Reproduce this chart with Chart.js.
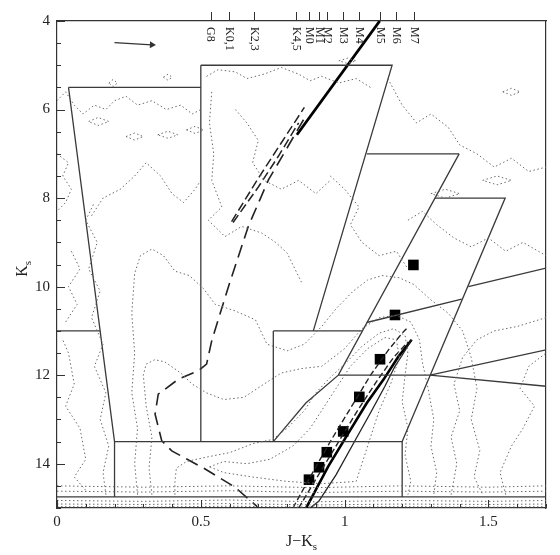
<!DOCTYPE html>
<html><head><meta charset="utf-8">
<script src="https://cdn.jsdelivr.net/npm/chart.js@4.4.1/dist/chart.umd.min.js"></script>
<style>html,body{margin:0;padding:0;background:#fff}canvas{display:block}</style>
</head><body>
<canvas id="c" width="560" height="555"></canvas>
<script>
// ---------- axis ranges / tick labels ----------
const xRange = [0, 1.7];
const yRange = [4, 15];
const xTickLabels = ['0', '0.5', '1', '1.5'];
const yTickLabels = ['4', '6', '8', '10', '12', '14'];
const spectralLabels = ['G8', 'K0,1', 'K2,3', 'K4,5', 'M0', 'M1', 'M2', 'M3', 'M4', 'M5', 'M6', 'M7'];
const spectralJK = [0.534, 0.598, 0.685, 0.830, 0.876, 0.911, 0.938, 0.995, 1.051, 1.123, 1.179, 1.242];

// ---------- filled squares ----------
const squareJK = [0.876, 0.911, 0.938, 0.995, 1.051, 1.123, 1.175, 1.239];
const squareKs = [14.36, 14.08, 13.74, 13.27, 12.49, 11.64, 10.64, 9.51];

// ---------- reddening arrow ----------
const arrowJK = [0.20, 0.33];
const arrowKs = [4.49, 4.54];

// ---------- region boundaries (solid) ----------
const boundaries = [
  [[0.04,5.5],[0.5,5.5]],
  [[0.04,5.5],[0.2,13.5],[0.2,14.75]],
  [[0,11],[0.15,11]],
  [[0.5,5],[0.5,13.5]],
  [[0.5,5],[1.165,5],[0.891,11]],
  [[0.752,11],[1.061,11]],
  [[0.752,11],[0.752,13.5]],
  [[0.2,13.5],[1.2,13.5],[1.2,14.75]],
  [[0.752,13.5],[0.865,12.63],[0.978,12],[1.398,7]],
  [[1.077,7],[1.398,7]],
  [[1.314,8],[1.558,8],[1.2,13.5]],
  [[0.978,12],[1.297,12]],
  [[1.297,12],[1.7,11.43]],
  [[1.297,12],[1.7,12.25]],
  [[1.077,10.81],[1.407,10.28]],
  [[1.43,10.0],[1.7,9.58]],
  [[0,14.75],[1.7,14.75]]
];

// ---------- thick solid tracks ----------
const thickJK = [1.122, 0.834];
const thickKs = [4.0, 6.57];
const msThickJK = [0.862, 0.943, 1.013, 1.077, 1.135, 1.187, 1.233];
const msThickKs = [15.05, 14.06, 13.31, 12.63, 12.10, 11.58, 11.20];
const msThinJK = [1.233, 1.20, 1.175, 1.14, 1.09, 1.03, 0.97, 0.91, 0.87];
const msThinKs = [11.20, 11.55, 11.80, 12.25, 12.85, 13.55, 14.25, 14.85, 15.05];

// ---------- dashed tracks ----------
const isoJK = [0.857, 0.735, 0.665, 0.596, 0.538, 0.520, 0.491, 0.422, 0.352, 0.341, 0.364, 0.399, 0.515, 0.619, 0.712];
const isoKs = [6.23, 7.59, 8.64, 10.0, 11.22, 11.75, 11.90, 12.09, 12.43, 12.88, 13.48, 13.71, 14.12, 14.53, 15.06];
const giantAJK = [0.607, 0.70, 0.78, 0.86];
const giantAKs = [8.53, 7.55, 6.75, 5.95];
const giantBJK = [0.612, 0.70, 0.77, 0.84];
const giantBKs = [8.55, 7.75, 7.05, 6.30];
const msDashAJK = [0.82, 0.88, 0.95, 1.02, 1.09, 1.15, 1.20, 1.215];
const msDashAKs = [15.0, 14.3, 13.5, 12.75, 12.0, 11.45, 11.05, 10.95];
const msDashBJK = [0.84, 0.90, 0.97, 1.04, 1.11, 1.17, 1.22];
const msDashBKs = [15.0, 14.35, 13.6, 12.85, 12.15, 11.6, 11.25];

// ---------- density contours (dotted) ----------
const contours = [
  // lower nested contours
  [[0.17,14.7],[0.16,14.2],[0.18,13.6],[0.15,13.0],[0.17,12.4],[0.13,11.8],[0.16,11.3],[0.12,10.7],[0.15,10.1],[0.11,9.6],[0.14,9.0],[0.10,8.5],[0.13,8.1]],
  [[0.28,14.7],[0.27,14.0],[0.28,13.2],[0.26,12.4],[0.27,11.5],[0.26,10.6],[0.27,9.7],[0.29,9.3],[0.33,9.15],[0.37,9.3],[0.41,9.65],[0.46,9.75],[0.51,10.05],[0.55,10.4],[0.62,10.55],[0.69,10.75],[0.73,11.3],[0.80,11.45],[0.86,11.3],[0.92,10.9],[0.97,10.5],[1.03,10.1],[1.08,9.85],[1.13,9.75],[1.19,9.8],[1.24,9.95],[1.30,10.3],[1.36,10.6],[1.41,11.0],[1.44,11.6],[1.46,12.3],[1.44,13.0],[1.47,13.7],[1.45,14.3],[1.48,14.7]],
  [[0.33,14.7],[0.32,14.1],[0.33,13.4],[0.31,12.7],[0.30,12.0],[0.31,11.75],[0.34,11.65],[0.375,11.7],[0.43,11.95],[0.47,12.2],[0.52,12.4],[0.58,12.55],[0.65,12.5],[0.72,12.2],[0.78,11.95],[0.85,11.85],[0.92,11.8],[1.00,11.4],[1.06,10.95],[1.12,10.7],[1.18,10.65],[1.23,10.8],[1.26,11.2],[1.27,11.7],[1.29,12.3],[1.31,13.0],[1.30,13.6],[1.32,14.2],[1.31,14.7]],
  [[0.41,14.7],[0.41,14.4],[0.415,14.1],[0.45,13.95],[0.52,13.85],[0.60,13.75],[0.68,13.55],[0.75,13.45],[0.80,13.2],[0.86,12.8],[0.90,12.4],[0.95,12.05],[1.00,11.75],[1.06,11.35],[1.12,11.05],[1.17,10.95],[1.21,11.1],[1.22,11.5],[1.21,12.0],[1.20,12.6],[1.22,13.2],[1.21,13.8],[1.23,14.4],[1.22,14.7]],
  [[0.53,14.07],[0.58,13.95],[0.66,14.0],[0.74,13.9],[0.82,13.6],[0.88,13.2],[0.92,12.8],[0.97,12.3],[1.02,11.8],[1.08,11.4],[1.14,11.15],[1.18,11.2],[1.19,11.6],[1.16,12.2],[1.12,12.8],[1.09,13.4],[1.06,14.0],[1.04,14.4],[0.92,14.45],[0.80,14.4],[0.68,14.3],[0.58,14.2],[0.53,14.07]],
  [[0.10,14.6],[0.06,14.3],[0.10,13.9],[0.08,13.2],[0.03,12.7],[0.06,12.2],[0.04,11.5],[0.02,11.2]],
  [[1.56,14.7],[1.54,14.2],[1.58,13.6],[1.62,13.2],[1.66,12.7],[1.61,12.3],[1.64,11.8],[1.70,11.5]],
  [[1.37,14.7],[1.39,14.0],[1.37,13.4],[1.40,12.8],[1.38,12.2],[1.41,11.6],[1.46,11.2],[1.52,11.0],[1.60,10.9],[1.70,10.7]],
  // bottom packed contours
  [[0.0,14.5],[0.3,14.53],[0.6,14.5],[0.9,14.54],[1.2,14.5],[1.5,14.53],[1.7,14.5]],
  [[0.0,14.62],[0.3,14.64],[0.6,14.61],[0.9,14.65],[1.2,14.62],[1.5,14.64],[1.7,14.62]],
  [[0.0,14.83],[0.3,14.85],[0.6,14.82],[0.9,14.86],[1.2,14.83],[1.5,14.85],[1.7,14.83]],
  [[0.0,14.91],[0.3,14.92],[0.6,14.9],[0.9,14.93],[1.2,14.91],[1.5,14.92],[1.7,14.91]],
  [[0.0,14.97],[0.3,14.98],[0.6,14.96],[0.9,14.98],[1.2,14.97],[1.5,14.98],[1.7,14.97]],
  // upper noisy contours
  [[0.52,5.25],[0.56,5.1],[0.62,5.15],[0.66,5.3],[0.72,5.2],[0.78,5.05],[0.84,5.2],[0.88,5.35],[0.92,5.25],[0.98,5.4],[1.04,5.3],[1.09,5.5]],
  [[0.0,5.8],[0.03,5.6],[0.06,5.9],[0.09,6.1],[0.13,5.9],[0.17,6.0],[0.20,5.8],[0.24,5.7],[0.28,5.9],[0.33,5.8],[0.38,6.0],[0.43,5.9],[0.47,6.1],[0.50,6.0]],
  [[0.0,7.0],[0.04,7.2],[0.02,7.5],[0.05,7.8],[0.03,8.1],[0.0,8.3]],
  [[0.12,8.4],[0.16,8.0],[0.22,7.8],[0.27,7.5],[0.31,7.2],[0.36,7.5],[0.40,7.9],[0.44,8.1],[0.48,7.8],[0.50,7.6]],
  [[0.538,5.6],[0.53,6.3],[0.545,7.0],[0.538,7.6],[0.573,8.2],[0.526,8.5],[0.584,8.87],[0.642,8.64],[0.712,8.79],[0.76,9.0],[0.80,9.24],[0.827,9.6],[0.85,9.9]],
  [[0.62,6.0],[0.66,6.3],[0.70,6.7],[0.68,7.2],[0.72,7.6],[0.78,7.8],[0.84,7.6],[0.90,7.9],[0.95,7.6]],
  [[0.95,7.5],[1.00,7.8],[1.05,8.2],[1.02,8.6],[1.06,9.0],[1.12,9.3],[1.18,9.2],[1.22,9.6]],
  [[1.15,5.3],[1.20,5.9],[1.25,6.3],[1.30,6.1],[1.36,6.4],[1.40,6.8],[1.46,7.0],[1.52,7.3],[1.58,7.1],[1.64,7.4],[1.70,7.3]],
  [[1.22,8.5],[1.27,8.3],[1.32,8.6],[1.38,8.9],[1.44,9.1],[1.50,8.9],[1.56,9.2],[1.62,9.0],[1.70,9.3]],
  [[0.05,9.2],[0.08,9.6],[0.04,10.0],[0.07,10.4],[0.03,10.8]],
  // small closed loops
  [[0.18,5.4],[0.195,5.32],[0.21,5.4],[0.195,5.48],[0.18,5.4]],
  [[0.37,5.27],[0.386,5.2],[0.40,5.27],[0.386,5.34],[0.37,5.27]],
  [[0.11,6.27],[0.143,6.18],[0.18,6.27],[0.143,6.36],[0.11,6.27]],
  [[0.24,6.61],[0.27,6.53],[0.30,6.61],[0.27,6.69],[0.24,6.61]],
  [[0.35,6.57],[0.386,6.49],[0.42,6.57],[0.386,6.65],[0.35,6.57]],
  [[0.45,6.46],[0.48,6.38],[0.51,6.46],[0.48,6.54],[0.45,6.46]],
  [[1.30,7.9],[1.35,7.8],[1.40,7.9],[1.35,8.0],[1.30,7.9]],
  [[1.48,7.6],[1.53,7.5],[1.58,7.6],[1.53,7.7],[1.48,7.6]],
  [[1.55,5.6],[1.58,5.52],[1.61,5.6],[1.58,5.68],[1.55,5.6]],
  [[0.98,4.9],[1.01,4.84],[1.04,4.9],[1.01,4.96],[0.98,4.9]]
];

// ---------- build datasets ----------
const pts = (xs, ys) => xs.map((v, i) => ({x: v, y: ys[i]}));
const pairPts = arr => arr.map(p => ({x: p[0], y: p[1]}));
const lineDS = (data, color, width, dash) => ({
  data, showLine: true, borderColor: color, borderWidth: width, borderDash: dash || [],
  pointRadius: 0, fill: false, tension: 0, clip: 0
});

const datasets = [];
contours.forEach(c => datasets.push(lineDS(pairPts(c), '#6a6a6a', 1, [1.5, 2.5])));
boundaries.forEach(b => datasets.push(lineDS(pairPts(b), '#3a3a3a', 1.3)));
datasets.push(lineDS(pts(isoJK, isoKs), '#222', 1.6, [13, 7]));
datasets.push(lineDS(pts(giantAJK, giantAKs), '#222', 1.5, [9, 4]));
datasets.push(lineDS(pts(giantBJK, giantBKs), '#222', 1.5, [9, 4]));
datasets.push(lineDS(pts(msDashAJK, msDashAKs), '#222', 1.4, [6, 3]));
datasets.push(lineDS(pts(msDashBJK, msDashBKs), '#222', 1.4, [6, 3]));
datasets.push(lineDS(pts(msThinJK, msThinKs), '#222', 1.3));
datasets.push(lineDS(pts(msThickJK, msThickKs), '#000', 2.6));
datasets.push(lineDS(pts(thickJK, thickKs), '#000', 2.8));
datasets.push({
  data: pts(squareJK, squareKs), showLine: false, pointStyle: 'rect',
  pointRadius: 7.5, backgroundColor: '#000', borderColor: '#000', borderWidth: 0
});
datasets.push({
  data: pts(arrowJK, arrowKs), showLine: true, borderColor: '#333', borderWidth: 1.2,
  pointStyle: 'triangle', pointRadius: [0, 4], pointRotation: 93,
  backgroundColor: '#333', pointBorderWidth: 0, fill: false
});

const serif = '"Liberation Serif", "DejaVu Serif", serif';

const decor = {
  id: 'decor',
  afterDraw(chart) {
    const {ctx, chartArea: a, scales: {x, y}} = chart;
    ctx.save();
    ctx.strokeStyle = '#333';
    ctx.lineWidth = 1;
    ctx.beginPath();
    for (let i = 0; i <= 170; i += 10) {
      const px = Math.round(x.getPixelForValue(i / 100)) + 0.5;
      const len = (i % 50 === 0) ? 8 : 4;
      ctx.moveTo(px, a.bottom); ctx.lineTo(px, a.bottom - len);
    }
    for (let i = 8; i <= 30; i++) {
      const v = i / 2;
      const py = Math.round(y.getPixelForValue(v)) + 0.5;
      const len = (v % 2 === 0) ? 8 : 4;
      ctx.moveTo(a.left, py); ctx.lineTo(a.left + len, py);
    }
    spectralJK.forEach(v => {
      const px = Math.round(x.getPixelForValue(v)) + 0.5;
      ctx.moveTo(px, a.top); ctx.lineTo(px, a.top - 9);
    });
    ctx.stroke();
    // spectral labels (rotated)
    ctx.fillStyle = '#222';
    ctx.font = '12px ' + serif;
    spectralJK.forEach((v, i) => {
      const px = x.getPixelForValue(v);
      ctx.save();
      ctx.translate(px, a.top + 6);
      ctx.rotate(Math.PI / 2);
      ctx.textAlign = 'left';
      ctx.textBaseline = 'middle';
      ctx.fillText(spectralLabels[i], 0, 0);
      ctx.restore();
    });
    // x title  J-Ks
    ctx.font = '16px ' + serif;
    ctx.textBaseline = 'alphabetic';
    ctx.textAlign = 'left';
    const main = 'J\u2212K';
    const w = ctx.measureText(main).width;
    ctx.font = '11px ' + serif;
    const ws = ctx.measureText('s').width;
    const cx = (a.left + a.right) / 2;
    const x0 = cx - (w + ws) / 2;
    ctx.font = '16px ' + serif;
    ctx.fillText(main, x0, 546);
    ctx.font = '11px ' + serif;
    ctx.fillText('s', x0 + w, 550);
    // y title Ks
    ctx.save();
    ctx.translate(27, 268);
    ctx.rotate(-Math.PI / 2);
    ctx.font = '16px ' + serif;
    const wk = ctx.measureText('K').width;
    ctx.fillText('K', -(wk + 6) / 2, 0);
    ctx.font = '11px ' + serif;
    ctx.fillText('s', -(wk + 6) / 2 + wk, 4);
    ctx.restore();
    ctx.restore();
  }
};

new Chart(document.getElementById('c'), {
  type: 'scatter',
  data: {datasets},
  plugins: [decor],
  options: {
    responsive: false,
    animation: false,
    events: [],
    layout: {padding: 0},
    plugins: {legend: {display: false}, tooltip: {enabled: false}},
    scales: {
      x: {
        type: 'linear', position: 'bottom', min: xRange[0], max: xRange[1],
        grid: {display: false, drawTicks: false},
        border: {display: true, color: '#333', width: 1.2},
        ticks: {
          stepSize: 0.5, includeBounds: false, color: '#222', padding: 5,
          font: {family: serif, size: 15}, maxRotation: 0,
          callback: v => { const s = String(Math.round(v * 10) / 10); return xTickLabels.includes(s) ? s : ''; }
        },
        afterFit: s => { s.height = 47; }
      },
      xTop: {
        type: 'linear', position: 'top', min: xRange[0], max: xRange[1],
        grid: {display: false, drawTicks: false},
        border: {display: true, color: '#333', width: 1.2},
        ticks: {display: false},
        afterFit: s => { s.height = 21; }
      },
      y: {
        type: 'linear', position: 'left', reverse: true, min: yRange[0], max: yRange[1],
        grid: {display: false, drawTicks: false},
        border: {display: true, color: '#333', width: 1.2},
        ticks: {
          stepSize: 2, includeBounds: false, color: '#222', padding: 7,
          font: {family: serif, size: 15},
          callback: v => { const s = String(v); return yTickLabels.includes(s) ? s : ''; }
        },
        afterFit: s => { s.width = 57; }
      },
      yRight: {
        type: 'linear', position: 'right', reverse: true, min: yRange[0], max: yRange[1],
        grid: {display: false, drawTicks: false},
        border: {display: true, color: '#333', width: 1.2},
        ticks: {display: false},
        afterFit: s => { s.width = 14; }
      }
    }
  }
});
</script>
</body></html>
